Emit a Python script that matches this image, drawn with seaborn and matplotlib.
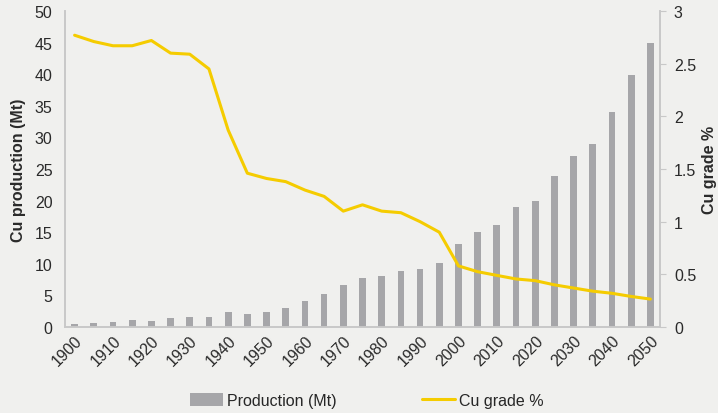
import matplotlib
matplotlib.use("Agg")
import matplotlib.pyplot as plt
import seaborn as sns
import pandas as pd
from matplotlib.patches import Patch
from matplotlib.lines import Line2D

years = list(range(1900, 2051, 5))
production = [0.5, 0.65, 0.8, 1.05, 0.9, 1.5, 1.6, 1.6, 2.3, 2.1, 2.4, 3.0, 4.1, 5.3, 6.7, 7.8,
              8.1, 8.9, 9.2, 10.1, 13.2, 15.0, 16.1, 19.0, 20.0, 23.9, 27.0, 28.9, 34.0, 39.9, 44.9]
grade = [2.77, 2.71, 2.67, 2.67, 2.72, 2.60, 2.59, 2.45, 1.87, 1.46, 1.41, 1.38, 1.30, 1.24, 1.10, 1.16,
         1.10, 1.085, 1.0, 0.90, 0.58, 0.525, 0.49, 0.456, 0.44, 0.40, 0.37, 0.34, 0.32, 0.29, 0.265]
tick_labels = [str(y) if y % 10 == 0 else "" for y in years]

BG = "#f0f0ee"
BAR = "#a6a6a9"
LINE = "#f5cc00"
SPINE = "#c8c8c8"
TXT = "#2a2a2a"
FS = 11.5

sns.set_theme(style="white")
plt.rcParams['font.family'] = ['Liberation Sans', 'DejaVu Sans']

df = pd.DataFrame({"year": [str(y) for y in years], "production": production, "grade": grade})

fig = plt.figure(figsize=(7.18, 4.14), dpi=100, facecolor=BG)
ax = fig.add_axes([65/718, 1-328/414, (660-65)/718, (328-12)/414])
ax.set_facecolor(BG)

sns.barplot(data=df, x="year", y="production", color=BAR, width=0.35, ax=ax,
            saturation=1, edgecolor="none")
ax.set_ylim(0, 50)
ax.set_yticks(range(0, 51, 5))
ax.set_xlim(-0.5, len(years) - 0.5)
ax.set_xticks(range(len(years)))
ax.set_xticklabels(tick_labels, rotation=45, ha="right", rotation_mode="anchor")
ax.set_xlabel("")
ax.set_ylabel("Cu production (Mt)", fontsize=11.5, fontweight="bold", color=TXT, labelpad=6)
ax.tick_params(axis="y", labelsize=FS, colors=TXT, length=0, pad=9)
ax.tick_params(axis="x", labelsize=FS, colors=TXT, length=0, pad=4)

ax2 = ax.twinx()
sns.lineplot(x=list(range(len(years))), y=grade, color=LINE, linewidth=2.2, ax=ax2)
ax2.set_ylim(0, 3)
ax2.set_yticks([0, 0.5, 1, 1.5, 2, 2.5, 3])
ax2.set_yticklabels(["0", "0.5", "1", "1.5", "2", "2.5", "3"])
ax2.set_ylabel("Cu grade %", fontsize=11.5, fontweight="bold", color=TXT, labelpad=4)
ax2.tick_params(axis="y", labelsize=FS, colors=TXT, length=4, width=0.8, pad=6)
ax2.tick_params(axis="y", color=SPINE)

for a in (ax, ax2):
    a.spines["top"].set_visible(False)
    for side in ("left", "right", "bottom"):
        a.spines[side].set_color(SPINE)
        a.spines[side].set_linewidth(1.2)

handles = [Patch(facecolor=BAR, edgecolor="none"), Line2D([0], [0], color=LINE, linewidth=2.2)]
fig.legend(handles, ["Production (Mt)", "Cu grade %"], loc="center", bbox_to_anchor=(0.511, 0.031),
           ncol=2, frameon=False, fontsize=FS, columnspacing=5.3, handlelength=2.1,
           handletextpad=0.25, handleheight=0.9, borderpad=0)

fig.savefig("out.png", dpi=100, facecolor=BG)
